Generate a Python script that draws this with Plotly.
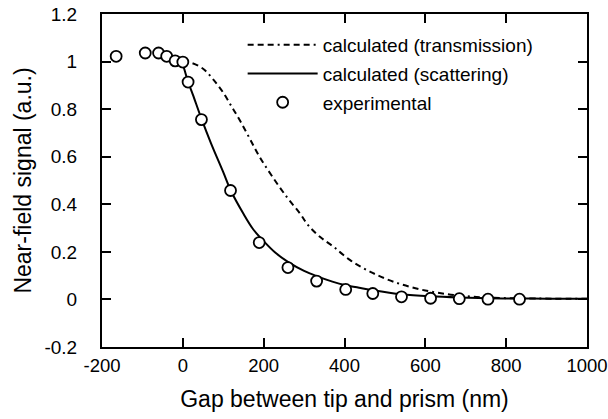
import plotly.graph_objects as go

# Experimental data
exp_x = [-165, -93, -60, -40, -19, 0, 13, 46, 118, 189, 260, 331, 403, 470, 541, 613, 684, 755, 833]
exp_y = [1.022, 1.036, 1.036, 1.022, 1.003, 0.998, 0.914, 0.756, 0.458, 0.239, 0.134, 0.077, 0.042, 0.025, 0.011, 0.005, 0.003, 0.001, 0.001]

# Calculated (scattering)
scat_x = [0, 5, 13, 25, 46, 70, 100, 118, 150, 174, 200, 230, 260, 300, 331, 370, 403, 440, 470, 541, 613, 684, 755, 833, 900, 1000]
scat_y = [0.99, 0.96, 0.915, 0.86, 0.76, 0.655, 0.535, 0.46, 0.36, 0.295, 0.245, 0.195, 0.158, 0.12, 0.098, 0.075, 0.06, 0.048, 0.039, 0.022, 0.013, 0.008, 0.005, 0.004, 0.003, 0.003]

# Calculated (transmission)
trans_x = [0, 20, 50, 75, 99, 120, 141, 165, 190, 220, 257, 290, 311, 340, 373, 414, 464, 522, 588, 654, 720, 786, 850, 1000]
trans_y = [1.0, 0.995, 0.97, 0.925, 0.872, 0.813, 0.753, 0.678, 0.599, 0.52, 0.431, 0.361, 0.31, 0.262, 0.221, 0.165, 0.116, 0.074, 0.042, 0.022, 0.011, 0.006, 0.004, 0.003]

x_tickvals = [-200, 0, 200, 400, 600, 800, 1000]
x_ticktext = ["-200", "0", "200", "400", "600", "800", "1000"]
y_tickvals = [-0.2, 0, 0.2, 0.4, 0.6, 0.8, 1.0, 1.2]
y_ticktext = ["-0.2", "0", "0.2", "0.4", "0.6", "0.8", "1", "1.2"]

FONT = "Liberation Sans, Arial, Helvetica, sans-serif"

fig = go.Figure()
fig.add_trace(go.Scatter(
    x=trans_x, y=trans_y, mode="lines", name="calculated (transmission)",
    line=dict(color="black", width=2, shape="spline",
              dash="6px,4px,6px,4px,6px,4px,2px,4px"),
    legendgroup="a"))
fig.add_trace(go.Scatter(
    x=scat_x, y=scat_y, mode="lines", name="calculated (scattering)",
    line=dict(color="black", width=2, shape="spline"),
    legendgroup="b"))
fig.add_trace(go.Scatter(
    x=exp_x, y=exp_y, mode="markers", name="experimental",
    marker=dict(symbol="circle", size=11, color="white",
                line=dict(color="black", width=1.8)),
    legendgroup="c"))

axis_common = dict(
    showline=True, linecolor="black", linewidth=2, mirror="ticks",
    ticks="inside", ticklen=9, tickwidth=2, tickcolor="black",
    showgrid=False, zeroline=False, automargin=False,
    ticklabeloverflow="allow",
)

fig.update_layout(
    width=608, height=419,
    margin=dict(l=102, r=21, t=14, b=72),
    paper_bgcolor="white", plot_bgcolor="white",
    font=dict(family=FONT, size=19, color="black"),
    xaxis=dict(range=[-200, 1000], tickvals=x_tickvals, ticktext=x_ticktext,
               ticklabelstandoff=1,
               tickfont=dict(family=FONT, size=18.5, color="black"),
               title=dict(text="Gap between tip and prism (nm)", standoff=16,
                          font=dict(family=FONT, size=23, color="black")),
               **axis_common),
    yaxis=dict(range=[-0.2, 1.2], tickvals=y_tickvals, ticktext=y_ticktext,
               ticklabelstandoff=19,
               tickfont=dict(family=FONT, size=19, color="black"),
               title=dict(text="Near-field signal (a.u.)", standoff=6,
                          font=dict(family=FONT, size=23, color="black")),
               **axis_common),
    legend=dict(x=0.29, y=0.964, xanchor="left", yanchor="top",
                bgcolor="rgba(0,0,0,0)", itemwidth=70, tracegroupgap=1,
                font=dict(family=FONT, size=19, color="black")),
    showlegend=True,
    hovermode=False,
)

fig.write_html("out.html",
               config={"displayModeBar": False},
               post_script="document.body.style.margin='0';document.body.style.overflow='hidden';")
